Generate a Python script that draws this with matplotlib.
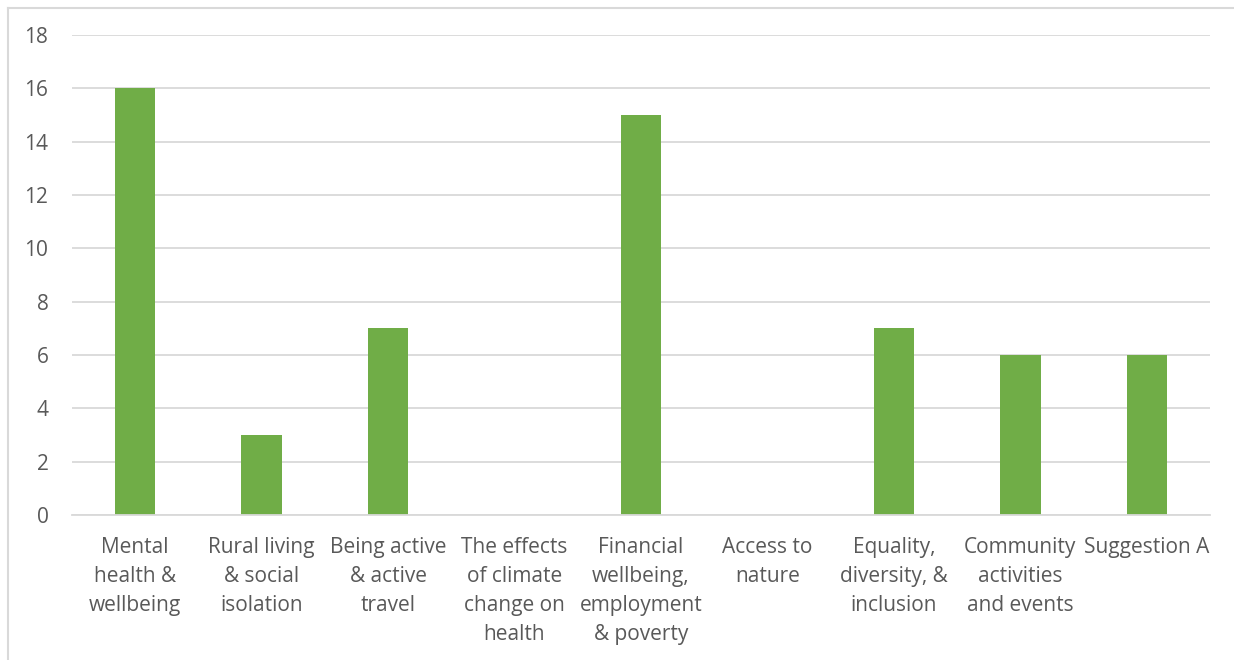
import matplotlib.pyplot as plt
from matplotlib.lines import Line2D

categories = [
    "Mental\nhealth &\nwellbeing",
    "Rural living\n& social\nisolation",
    "Being active\n& active\ntravel",
    "The effects\nof climate\nchange on\nhealth",
    "Financial\nwellbeing,\nemployment\n& poverty",
    "Access to\nnature",
    "Equality,\ndiversity, &\ninclusion",
    "Community\nactivities\nand events",
    "Suggestion A",
]
counts = [16, 3, 7, 0, 15, 0, 7, 6, 6]
y_ticks = [0, 2, 4, 6, 8, 10, 12, 14, 16, 18]

GREEN = "#70ad47"
GRID = "#d9d9d9"
TEXT = "#595959"

plt.rcParams["font.family"] = ["Open Sans", "DejaVu Sans"]

fig = plt.figure(figsize=(12.34, 6.6), dpi=100)
W, H = 1234, 660
# plot area in pixels: x 72..1210, y 35..515
ax = fig.add_axes([72 / W, 1 - 515 / H, (1210 - 72) / W, (515 - 35) / H])

x = list(range(len(categories)))
ax.bar(x, counts, width=0.32, color=GREEN, zorder=3)

ax.set_xlim(-0.5, len(categories) - 0.5)
ax.set_ylim(0, 18)
ax.set_yticks(y_ticks)
ax.set_yticklabels([str(t) for t in y_ticks], fontsize=15, color=TEXT)
ax.set_xticks(x)
ax.set_xticklabels(categories, fontsize=15, color=TEXT, linespacing=1.5, va="top")
ax.tick_params(axis="both", length=0)
ax.tick_params(axis="y", pad=17)
ax.tick_params(axis="x", pad=16)

ax.grid(axis="y", color=GRID, linewidth=1.3, zorder=0)
for side in ["top", "right", "left"]:
    ax.spines[side].set_visible(False)
ax.spines["bottom"].set_color(GRID)
ax.spines["bottom"].set_linewidth(1.3)
ax.spines["bottom"].set_zorder(4)

# chart frame (left and top edges)
fig.add_artist(Line2D([7.5 / W, 7.5 / W], [0, 1 - 7.5 / H], color=GRID, linewidth=1.5))
fig.add_artist(Line2D([7.5 / W, 1], [1 - 7.5 / H, 1 - 7.5 / H], color=GRID, linewidth=1.5))

fig.savefig("out.png", dpi=100)
